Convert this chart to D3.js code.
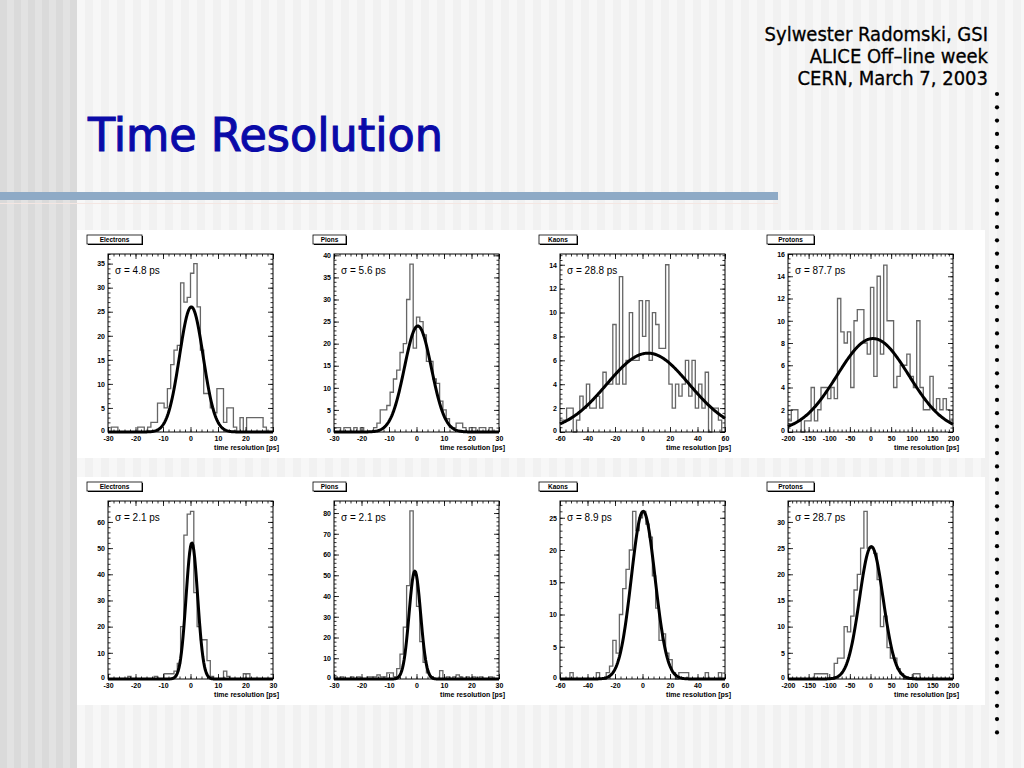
<!DOCTYPE html>
<html>
<head>
<meta charset="utf-8">
<script src="https://cdn.jsdelivr.net/npm/d3@7"></script>
<style>
  body { margin: 0; background: #f2f2f2; }
  svg { display: block; }
</style>
</head>
<body>
<div id="slide"></div>
<script>
// --- data ---
const categories = ["Electrons", "Pions", "Kaons", "Protons"];
const xDomains = [[-30, 30], [-30, 30], [-60, 60], [-200, 200]];
const xTickValues = [
  [-30, -20, -10, 0, 10, 20, 30],
  [-30, -20, -10, 0, 10, 20, 30],
  [-60, -40, -20, 0, 20, 40, 60],
  [-200, -150, -100, -50, 0, 50, 100, 150, 200]
];
const xTickLabels = [
  ["-30", "-20", "-10", "0", "10", "20", "30"],
  ["-30", "-20", "-10", "0", "10", "20", "30"],
  ["-60", "-40", "-20", "0", "20", "40", "60"],
  ["-200", "-150", "-100", "-50", "0", "50", "100", "150", "200"]
];

// top row
const topYMax = [37, 40.3, 14.9, 16];
const topYStep = [5, 5, 2, 2];
const topSigmaText = ["σ = 4.8 ps", "σ = 5.6 ps", "σ = 28.8 ps", "σ = 87.7 ps"];
const topFitAmp = [26, 24, 6.6, 8.4];
const topFitMean = [0.3, 0.5, 4, 6];
const topFitSigma = [4.3, 4.9, 30, 87];

const electronsTop = [0,1,1,0,0,0,0,0,0,1, 1,0,1,2,2,6,6,5,9,14,
  17,18,31,27,28,33,35,26,17,8, 8,5,4,9,9,2,5,5,1,0,
  3,0,3,3,3,3,3,1,0,0];
const pionsTop = [1,1,0,1,1,0,1,0,1,0, 0,0,1,2,5,5,6,9,12,14,
  18,20,30,38,19,26,25,22,16,16, 12,11,7,5,3,1,1,2,2,1,
  0,1,1,0,1,1,0,1,0,0];
const kaonsTop = [1,1,2,2,0,1,3,2,4,2, 2,3,2,5,4,4,9,4,13,4,
  6,10,6,6,11,8,11,6,10,9, 7,7,14,4,2,4,3,4,6,3,
  6,2,4,2,5,0,2,2,1,0];
const protonsTop = [1,2,2,1,0,1,1,4,1,2, 4,4,3,4,3,12,9,8,9,4,
  10,11,11,8,7,13,5,14,7,15, 10,10,4,5,6,6,7,5,4,10,
  4,2,2,5,2,3,2,3,2,1];

// bottom row
const bottomYMax = [68, 85.8, 27.6, 34];
const bottomYStep = [10, 10, 5, 5];
const bottomSigmaText = ["σ = 2.1 ps", "σ = 2.1 ps", "σ = 8.9 ps", "σ = 28.7 ps"];
const bottomFitAmp = [52, 52, 26, 25.3];
const bottomFitMean = [0.5, -0.6, 0.5, 2];
const bottomFitSigma = [2.1, 2.1, 8.6, 28.7];

const electronsBottom = [0,0,0,0,0,0,1,0,0,0, 0,0,0,0,1,0,0,2,2,2,
  3,6,20,55,63,64,33,20,15,15, 7,1,0,0,0,3,1,0,0,0,
  0,2,2,0,0,0,0,0,0,0];
const pionsBottom = [1,0,1,0,0,1,0,1,0,0, 1,1,1,2,1,1,3,3,1,5,
  12,25,45,81,50,35,18,8,3,1, 0,0,4,0,1,0,1,2,1,0,
  1,0,1,0,1,0,0,1,0,0];
const kaonsBottom = [0,0,0,1,0,0,0,0,0,0, 0,1,0,0,1,2,6,4,10,14,
  17,20,26,23,25,26,24,22,16,11, 6,7,4,3,1,0,1,1,1,0,
  0,0,0,0,1,0,0,0,1,0];
const protonsBottom = [0,0,0,0,0,0,0,0,1,1, 1,1,0,0,3,4,4,10,9,12,
  17,20,25,32,25,25,24,19,10,12, 6,4,4,2,1,0,0,0,1,1,
  0,0,0,0,0,0,0,0,0,0];

const topCounts = [electronsTop, pionsTop, kaonsTop, protonsTop];
const bottomCounts = [electronsBottom, pionsBottom, kaonsBottom, protonsBottom];

const headerLines = ["Sylwester Radomski, GSI", "ALICE Off\u2013line week", "CERN, March 7, 2003"];
const titleText = "Time Resolution";
const axisTitle = "time resolution [ps]";

// --- layout ---
const W = 1024, H = 768;
const frameLeft = [108, 334, 560, 788];
const frameWidth = 165;
const legendWidth = [55, 33, 38, 47];
const rows = [
  { top: 254, bottom: 432, yMax: topYMax, yStep: topYStep, sigma: topSigmaText,
    amp: topFitAmp, mean: topFitMean, sd: topFitSigma, counts: topCounts },
  { top: 501, bottom: 679, yMax: bottomYMax, yStep: bottomYStep, sigma: bottomSigmaText,
    amp: bottomFitAmp, mean: bottomFitMean, sd: bottomFitSigma, counts: bottomCounts }
];

const svg = d3.select("#slide").append("svg")
  .attr("width", W).attr("height", H)
  .attr("viewBox", `0 0 ${W} ${H}`);

// slide background with vertical stripes
svg.append("rect").attr("width", W).attr("height", H).attr("fill", "#f1f1f1");
svg.append("rect").attr("width", 77).attr("height", H).attr("fill", "#e2e2e2");
svg.selectAll("rect.stripeL").data(d3.range(0, 77, 14)).enter().append("rect")
  .attr("class", "stripeL").attr("x", d => d).attr("y", 0)
  .attr("width", 7).attr("height", H).attr("fill", "#dadada");
svg.selectAll("rect.stripe").data(d3.range(77, W, 16)).enter().append("rect")
  .attr("class", "stripe").attr("x", d => d).attr("y", 0)
  .attr("width", 8).attr("height", H).attr("fill", "#f7f7f7");

// horizontal rule under the title
svg.append("rect").attr("x", 0).attr("y", 192).attr("width", 778).attr("height", 8).attr("fill", "#8eaac6");
svg.append("rect").attr("x", 0).attr("y", 203).attr("width", 778).attr("height", 1).attr("fill", "#f4e6e2");

// dotted vertical line on the right
svg.selectAll("circle.dot").data(d3.range(94, 735, 13.3)).enter().append("circle")
  .attr("class", "dot").attr("cx", 997).attr("cy", d => d).attr("r", 2.1).attr("fill", "#000");

// header text
svg.append("g").selectAll("text").data(headerLines).enter().append("text")
  .attr("x", 988).attr("y", (d, i) => 41 + i * 22)
  .attr("text-anchor", "end")
  .style("font-family", "'DejaVu Sans Condensed', 'DejaVu Sans', sans-serif")
  .style("font-size", "20px").attr("fill", "#000")
  .attr("stroke", "#000").attr("stroke-width", 0.3)
  .text(d => d);

svg.append("text").attr("x", 88).attr("y", 151)
  .attr("textLength", 355).attr("lengthAdjust", "spacingAndGlyphs")
  .style("font-family", "'DejaVu Sans Condensed', 'DejaVu Sans', sans-serif")
  .style("font-size", "46px").attr("fill", "#0a0aa8")
  .attr("stroke", "#0a0aa8").attr("stroke-width", 1)
  .text(titleText);

// white picture areas
svg.append("rect").attr("x", 77).attr("y", 230).attr("width", 908).attr("height", 228).attr("fill", "#fff");
svg.append("rect").attr("x", 77).attr("y", 477).attr("width", 908).attr("height", 228).attr("fill", "#fff");

const labelFont = "'Liberation Sans', Arial, sans-serif";

rows.forEach(row => {
  categories.forEach((cat, c) => {
    const x0 = frameLeft[c], x1 = x0 + frameWidth;
    const dom = xDomains[c];
    const x = d3.scaleLinear().domain(dom).range([x0, x1]);
    const y = d3.scaleLinear().domain([0, row.yMax[c]]).range([row.bottom, row.top]);
    const g = svg.append("g");

    // legend box
    const lx = x0 - 21, ly = row.top - 19;
    g.append("rect").attr("x", lx + 1).attr("y", ly + 1).attr("width", legendWidth[c]).attr("height", 9)
      .attr("fill", "#000");
    g.append("rect").attr("x", lx).attr("y", ly).attr("width", legendWidth[c]).attr("height", 9)
      .attr("fill", "#fff").attr("stroke", "#000").attr("stroke-width", 0.8);
    g.append("text").attr("x", lx + legendWidth[c] / 2).attr("y", ly + 7)
      .attr("text-anchor", "middle")
      .style("font-family", labelFont).style("font-size", "6.5px").style("font-weight", "bold")
      .text(cat);

    // histogram outline
    const counts = row.counts[c];
    const bw = (dom[1] - dom[0]) / counts.length;
    const pts = counts.map((v, i) => [dom[0] + i * bw, v]);
    pts.push([dom[1], counts[counts.length - 1]]);
    const step = d3.line().x(d => x(d[0])).y(d => y(Math.min(d[1], row.yMax[c]))).curve(d3.curveStepAfter);
    g.append("path").attr("d", step(pts)).attr("fill", "none")
      .attr("stroke", "#666").attr("stroke-width", 1.3);

    // gaussian fit
    const A = row.amp[c], mu = row.mean[c], s = row.sd[c];
    const fx = d3.range(0, 201).map(k => dom[0] + (dom[1] - dom[0]) * k / 200);
    const fit = d3.line().x(d => x(d)).y(d => y(A * Math.exp(-((d - mu) ** 2) / (2 * s * s))));
    g.append("path").attr("d", fit(fx)).attr("fill", "none")
      .attr("stroke", "#000").attr("stroke-width", 3).attr("stroke-linejoin", "round");

    // frame
    g.append("rect").attr("x", x0).attr("y", row.top).attr("width", frameWidth)
      .attr("height", row.bottom - row.top).attr("fill", "none")
      .attr("stroke", "#000").attr("stroke-width", 1);

    // axes: ticks inside, labels outside
    const xt = xTickValues[c];
    const xMinor = d3.range(0, (xt.length - 1) * 5 + 1).map(k => xt[0] + k * (xt[1] - xt[0]) / 5);
    const xAxisBottom = d3.axisBottom(x).tickValues(xt).tickSize(-5).tickFormat((d, i) => xTickLabels[c][i]).tickPadding(4);
    g.append("g").attr("transform", `translate(0,${row.bottom})`).call(xAxisBottom);
    g.append("g").attr("transform", `translate(0,${row.bottom})`)
      .call(d3.axisBottom(x).tickValues(xMinor).tickSize(-2.5).tickFormat(""));
    g.append("g").attr("transform", `translate(0,${row.top})`)
      .call(d3.axisTop(x).tickValues(xt).tickSize(-5).tickFormat(""));
    g.append("g").attr("transform", `translate(0,${row.top})`)
      .call(d3.axisTop(x).tickValues(xMinor).tickSize(-2.5).tickFormat(""));

    const ys = row.yStep[c];
    const yt = d3.range(0, row.yMax[c] + 1e-9, ys);
    const yMinor = d3.range(0, row.yMax[c] + 1e-9, ys / 5);
    const ay = g.append("g").attr("transform", `translate(${x0},0)`)
      .call(d3.axisLeft(y).tickValues(yt).tickSize(-5).tickPadding(3).tickFormat(d3.format("d")));
    // lift the zero label a little so it clears the x labels
    ay.selectAll(".tick").filter(d => d === 0).select("text").attr("dy", "0.1em");
    g.append("g").attr("transform", `translate(${x0},0)`)
      .call(d3.axisLeft(y).tickValues(yMinor).tickSize(-2.5).tickFormat(""));
    g.append("g").attr("transform", `translate(${x1},0)`)
      .call(d3.axisRight(y).tickValues(yt).tickSize(-5).tickFormat(""));
    g.append("g").attr("transform", `translate(${x1},0)`)
      .call(d3.axisRight(y).tickValues(yMinor).tickSize(-2.5).tickFormat(""));

    g.selectAll(".domain").remove();
    g.selectAll(".tick line").attr("stroke", "#000").attr("stroke-width", 0.8);
    g.selectAll(".tick text").style("font-family", labelFont).style("font-size", "7px")
      .style("font-weight", "bold").attr("fill", "#000");

    // axis title
    g.append("text").attr("x", x1 + 6).attr("y", row.bottom + 18)
      .attr("text-anchor", "end")
      .style("font-family", labelFont).style("font-size", "7px").style("font-weight", "bold")
      .text(axisTitle);

    // sigma annotation
    g.append("text").attr("x", x0 + 7).attr("y", row.top + 20)
      .style("font-family", labelFont).style("font-size", "10px")
      .text(row.sigma[c]);
  });
});
</script>
</body>
</html>
